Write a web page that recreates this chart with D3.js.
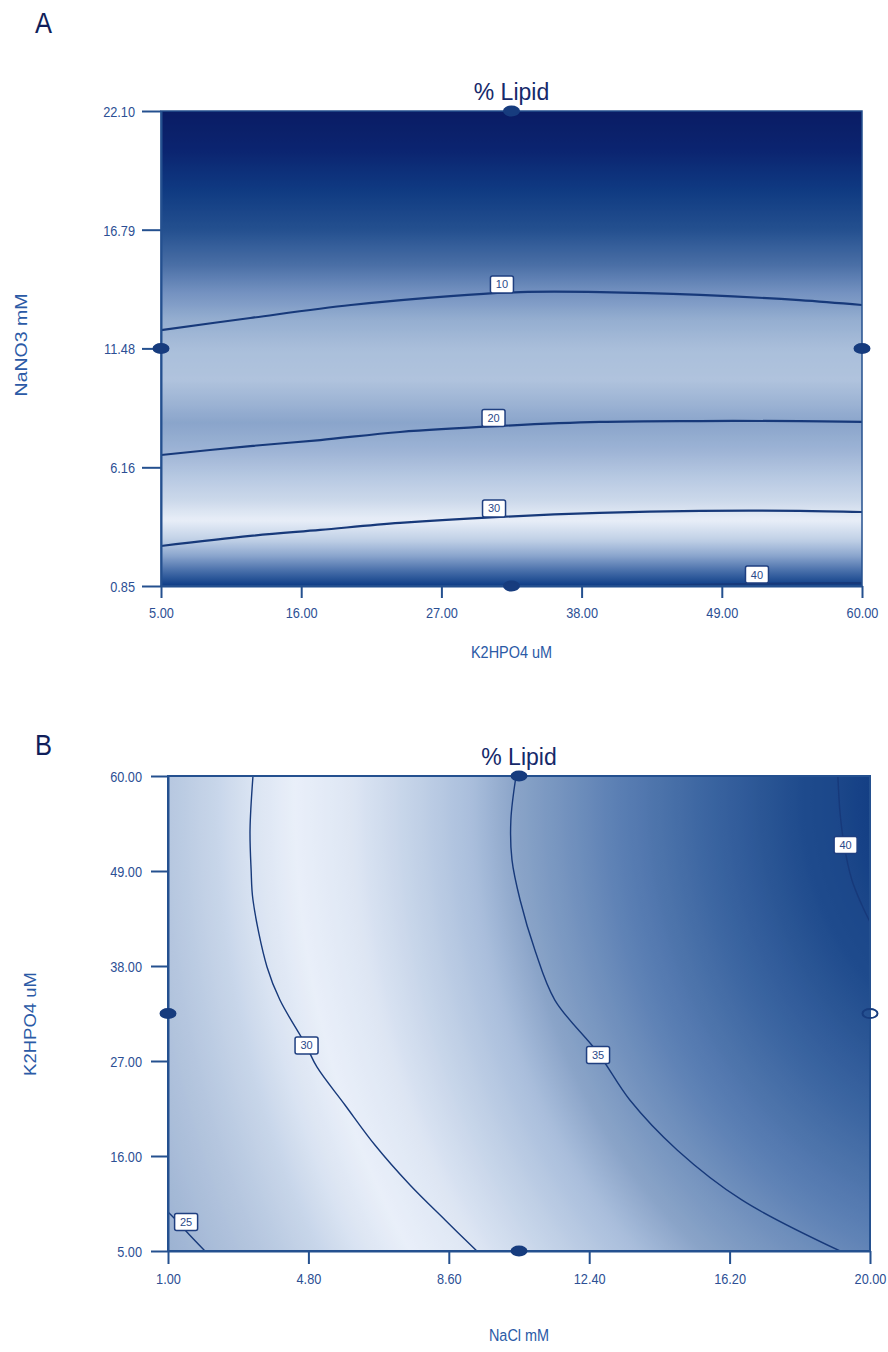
<!DOCTYPE html>
<html>
<head>
<meta charset="utf-8">
<script src="https://cdn.jsdelivr.net/npm/d3@7"></script>
<style>
  body { margin: 0; background: #fff; }
  svg { display: block; }
  text { font-family: "Liberation Sans", Arial, sans-serif; }
</style>
</head>
<body>
<div id="chart"></div>
<script>
// ---- panel A : K2HPO4 uM (x) vs NaNO3 mM (y) ----
var xTicksA = [5, 16, 27, 38, 49, 60];
var yTicksA = [0.85, 6.16, 11.48, 16.79, 22.10];
var levelsA = [10, 20, 30, 40];
var contourA10 = [[5,12.30],[12,12.84],[19.9,13.42],[27.7,13.82],[33.2,14.0],[39.5,14.0],[47.3,13.87],[55.1,13.64],[60,13.42]];
var contourA20 = [[5,6.71],[12,7.11],[17.5,7.38],[23.75,7.74],[31.6,8.01],[39.4,8.19],[47.3,8.23],[55.1,8.23],[60,8.19]];
var contourA30 = [[5,2.64],[12,3.09],[17.5,3.36],[23.75,3.67],[31.6,3.94],[39.4,4.12],[47.3,4.21],[55.1,4.21],[60,4.16]];
var contourA40 = [[43,0.85],[47,0.9],[52,0.95],[60,0.98]];
var labelPosA = [[31.75,14.34],[31.09,8.37],[31.13,4.32],[51.76,1.36]];
var designA = [[32.5,22.10],[5,11.475],[60,11.475],[32.5,0.85]];
// % lipid read down the middle of the surface
var shadeA_no3   = [22.10, 20.35, 18.57, 16.78, 15.21, 14.00, 12.75, 11.41, 10.07, 9.17, 8.14, 6.93, 5.82, 4.70, 3.80, 2.91, 2.24, 1.57, 1.03, 0.85];
var shadeA_lipid = [-1, 2.5, 5, 7, 8.7, 10, 12, 14.5, 16.5, 18, 20, 23, 25.5, 28.5, 31, 33.5, 35.5, 37.5, 39.5, 40.2];

// ---- panel B : NaCl mM (x) vs K2HPO4 uM (y) ----
var xTicksB = [1, 4.8, 8.6, 12.4, 16.2, 20];
var yTicksB = [5, 16, 27, 38, 49, 60];
var levelsB = [25, 30, 35, 40];
var contourB25 = [[1,9.52],[1.27,8.36],[1.51,7.2],[2.0,5]];
var contourB30 = [[3.30,60],[3.22,53.75],[3.25,49.12],[3.30,45.64],[3.68,37.89],[4.03,34.06],[4.73,28.85],[5.03,26.31],[5.79,21.91],[6.60,17.27],[7.55,12.64],[8.50,8.59],[9.36,5]];
var contourB35 = [[10.42,60],[10.28,54.91],[10.31,50.28],[10.53,45.64],[10.93,39.85],[11.47,34.06],[12.64,27.93],[13.50,22.48],[14.78,16.70],[16.53,10.91],[19.19,5]];
var contourB40 = [[19.13,60],[19.19,55.72],[19.30,52.01],[19.51,47.96],[19.78,45.06],[20,43.10]];
var labelPosB = [[1.49,8.36],[4.75,28.80],[12.64,27.70],[19.34,52.01]];
var designB = [[10.5,60],[1,32.5],[20,32.5],[10.5,5]];
var shadeB_nacl  = [20, 19.13, 16.2, 12.4, 10.42, 8, 6, 4.8, 3.3, 1, 1];
var shadeB_k     = [60, 60, 60, 60, 60, 60, 60, 60, 60, 60, 5];
var shadeB_lipid = [41.5, 40, 38.3, 36.1, 35, 33.3, 31.9, 31.05, 30, 27.6, 24.3];

// colour ramps (% lipid -> tint), one per panel as in the original
var colorA = d3.scaleLinear()
  .domain([-1, 2.5, 5, 7, 8.7, 10, 12, 14.5, 16.5, 18, 20, 23, 25.5, 28.5, 31, 33.5, 35.5, 37.5, 39.5, 40.2])
  .range(["#0a1c64","#0b2470","#0f3a82","#24508f","#4a6fa6","#7391c0","#95aed0","#aabfdb","#b0c3dd","#9fb5d5",
          "#8aa5cb","#9db3d5","#b5c7e1","#cbd8ea","#e8eef8","#c0d0e6","#8ea8cf","#4c72ac","#1c4a90","#0e3a84"]);
var colorB = d3.scaleLinear()
  .domain([24.3, 27.6, 29, 30.8, 31.8, 33.0, 34.2, 35, 36.5, 38, 39.5, 41.5])
  .range(["#9cb2d2","#b6c7df","#c8d6ea","#e9eff9","#dfe7f4","#c4d3e8","#a8bddb","#8aa4c8","#5c80b4","#3a64a0","#1e4a8c","#143f84"]);

var W = 888, H = 1352;
var svg = d3.select("#chart").append("svg").attr("width", W).attr("height", H);
svg.append("rect").attr("width", W).attr("height", H).attr("fill", "#fff");
var defs = svg.append("defs");

var fmt = d3.format(".2f");

function drawPanel(p) {
  var x = d3.scaleLinear().domain(p.xDom).range([p.left, p.right]);
  var y = d3.scaleLinear().domain(p.yDom).range([p.bottom, p.top]);
  var g = svg.append("g");

  // shaded surface
  var grad;
  if (p.kind === "linear") {
    var toLipid = d3.scaleLinear().domain(p.shadeY).range(p.shadeL);
    grad = defs.append("linearGradient").attr("id", p.id + "grad")
      .attr("gradientUnits", "userSpaceOnUse")
      .attr("x1", 0).attr("x2", 0).attr("y1", p.top).attr("y2", p.bottom);
    d3.range(0, 161).forEach(function(i) {
      var t = i / 160;
      var v = y.invert(p.top + t * (p.bottom - p.top));
      grad.append("stop").attr("offset", t).attr("stop-color", p.color(toLipid(v)));
    });
  } else {
    // elliptical falloff from a point beyond the top-right corner
    var cx = x(p.centre[0]), cy = y(p.centre[1]), R = 1000, k = p.stretch;
    var pts = p.shadeX.map(function(d, i) {
      return [Math.hypot(x(d) - cx, (y(p.shadeY[i]) - cy) / k), p.shadeL[i]];
    }).sort(function(a, b) { return a[0] - b[0]; });
    var rToLipid = d3.scaleLinear().domain(pts.map(function(d) { return d[0]; }))
      .range(pts.map(function(d) { return d[1]; })).clamp(true);
    grad = defs.append("radialGradient").attr("id", p.id + "grad")
      .attr("gradientUnits", "userSpaceOnUse")
      .attr("cx", cx).attr("cy", cy).attr("fx", cx).attr("fy", cy).attr("r", R)
      .attr("gradientTransform", "translate(" + cx + "," + cy + ") scale(1," + k + ") translate(" + (-cx) + "," + (-cy) + ")");
    d3.range(0, 201).forEach(function(i) {
      var t = i / 200;
      grad.append("stop").attr("offset", t).attr("stop-color", p.color(rToLipid(t * R)));
    });
  }
  defs.append("clipPath").attr("id", p.id + "clip").append("rect")
    .attr("x", p.left).attr("y", p.top).attr("width", p.right - p.left).attr("height", p.bottom - p.top);

  g.append("rect").attr("x", p.left).attr("y", p.top)
    .attr("width", p.right - p.left).attr("height", p.bottom - p.top)
    .attr("fill", "url(#" + p.id + "grad)");

  // contour lines
  var line = d3.line().x(function(d) { return x(d[0]); }).y(function(d) { return y(d[1]); })
    .curve(d3.curveCatmullRom);
  g.append("g").attr("clip-path", "url(#" + p.id + "clip)")
    .selectAll("path").data(p.contours).enter().append("path")
    .attr("d", line).attr("fill", "none").attr("stroke", "#17397a").attr("stroke-width", p.lineW);

  // frame
  g.append("rect").attr("x", p.left).attr("y", p.top)
    .attr("width", p.right - p.left).attr("height", p.bottom - p.top)
    .attr("fill", "none").attr("stroke", "#24508f").attr("stroke-width", p.frameW);

  // axes
  var ax = g.append("g").attr("transform", "translate(0," + p.bottom + ")")
    .call(d3.axisBottom(x).tickValues(p.xTicks).tickFormat(fmt).tickSize(p.xTickLen).tickSizeOuter(0));
  var ay = g.append("g").attr("transform", "translate(" + p.left + ",0)")
    .call(d3.axisLeft(y).tickValues(p.yTicks).tickFormat(fmt).tickSize(p.yTickLen).tickSizeOuter(0));
  [ax, ay].forEach(function(a) {
    a.select(".domain").attr("stroke", "#24508f").attr("stroke-width", 2);
    a.selectAll(".tick line").attr("stroke", "#24508f").attr("stroke-width", 2);
    a.selectAll(".tick text").attr("fill", "#2c4f94").attr("font-size", 15)
      .attr("font-family", "'Liberation Sans', Arial, sans-serif");
  });
  ax.selectAll(".tick text").attr("y", p.xLabelY).attr("dy", 0).attr("transform", "scale(0.85,1)");
  ay.selectAll(".tick text").attr("x", -p.yLabelGap / 0.85).attr("dy", "0.36em").attr("transform", "scale(0.85,1)");

  // design points
  g.selectAll(".dp").data(p.design).enter().append("ellipse")
    .attr("cx", function(d) { return x(d[0]); }).attr("cy", function(d) { return y(d[1]); })
    .attr("rx", 7.5).attr("ry", 4.6)
    .attr("fill", function(d, i) { return i === p.hollow ? "none" : "#173c7e"; })
    .attr("stroke", "#173c7e").attr("stroke-width", 2);

  // contour labels
  var lab = g.selectAll(".lab").data(p.labels).enter().append("g")
    .attr("transform", function(d) { return "translate(" + x(d[0]) + "," + y(d[1]) + ")"; });
  lab.append("rect").attr("x", -11.5).attr("y", -8.5).attr("width", 23).attr("height", 17).attr("rx", 2)
    .attr("fill", "#fff").attr("stroke", "#1f3f80").attr("stroke-width", 1.5);
  lab.append("text").attr("text-anchor", "middle").attr("dy", "0.36em")
    .attr("font-size", 11).attr("fill", "#2a4a8a")
    .text(function(d, i) { return p.levels[i]; });

  // titles
  var mid = (p.left + p.right) / 2;
  g.append("text").attr("transform", "translate(" + mid + "," + p.titleY + ")")
    .attr("text-anchor", "middle").attr("font-size", 23).attr("fill", "#15296a").text("% Lipid");
  g.append("text").attr("transform", "translate(" + mid + "," + p.xTitleY + ") scale(0.85,1)")
    .attr("text-anchor", "middle").attr("font-size", 17).attr("fill", "#2b5aa6").text(p.xTitle);
  g.append("text").attr("transform", "translate(" + p.yTitleX + "," + p.yTitleMid + ") scale(0.85,1) rotate(-90)")
    .attr("text-anchor", "middle").attr("font-size", p.yTitleSize).attr("fill", "#2b5aa6").text(p.yTitle);
  g.append("text").attr("transform", "translate(35," + p.tagY + ") scale(0.85,1)")
    .attr("font-size", 30).attr("fill", "#101e5a").text(p.tag);
}

drawPanel({
  id: "A", kind: "linear", left: 161, right: 862, top: 111, bottom: 586,
  xDom: [5, 60], yDom: [0.85, 22.10], xTicks: xTicksA, yTicks: yTicksA,
  shadeY: shadeA_no3, shadeL: shadeA_lipid, color: colorA,
  contours: [contourA10, contourA20, contourA30, contourA40], levels: levelsA, labels: labelPosA,
  design: designA, hollow: -1, lineW: 2.2, frameW: 1.5,
  xTickLen: 12, yTickLen: 19, xLabelY: 32, yLabelGap: 26,
  titleY: 100, xTitleY: 658, xTitle: "K2HPO4 uM",
  yTitleX: 27, yTitleMid: 345, yTitleSize: 19.5, yTitle: "NaNO3 mM", tag: "A", tagY: 33
});

drawPanel({
  id: "B", kind: "radial", left: 168, right: 870, top: 776, bottom: 1251,
  xDom: [1, 20], yDom: [5, 60], xTicks: xTicksB, yTicks: yTicksB,
  shadeX: shadeB_nacl, shadeY: shadeB_k, shadeL: shadeB_lipid, color: colorB,
  centre: [24.06, 57.2], stretch: 1.15,
  contours: [contourB25, contourB30, contourB35, contourB40], levels: levelsB, labels: labelPosB,
  design: designB, hollow: 2, lineW: 1.4, frameW: 2,
  xTickLen: 13, yTickLen: 17, xLabelY: 33, yLabelGap: 26,
  titleY: 765, xTitleY: 1341, xTitle: "NaCl mM",
  yTitleX: 36, yTitleMid: 1024, yTitleSize: 18.5, yTitle: "K2HPO4 uM", tag: "B", tagY: 755
});
</script>
</body>
</html>
